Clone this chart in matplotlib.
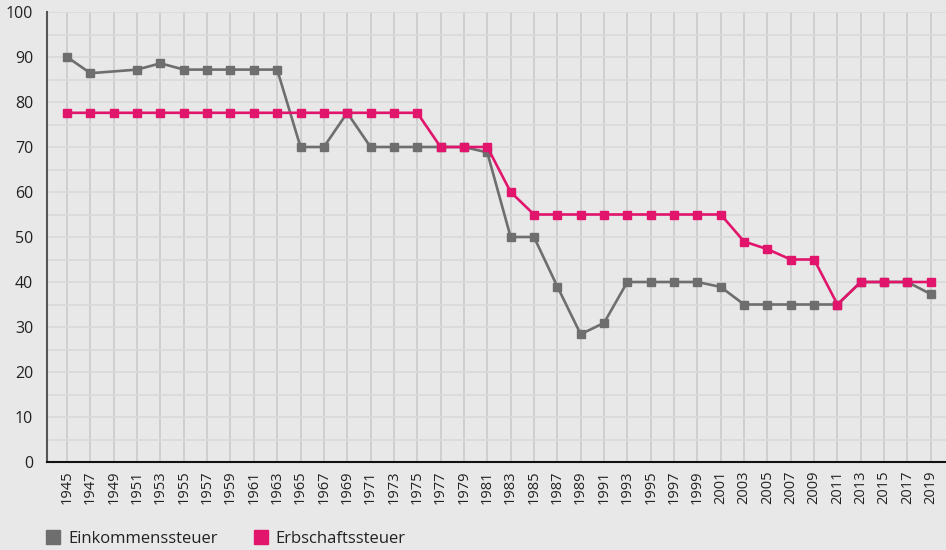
import numpy as np
import matplotlib
matplotlib.use("Agg")
import matplotlib.pyplot as plt
from matplotlib.lines import Line2D

years = list(range(1945, 2020, 2))

# top rate income tax (no value for 1949)
einkommen = [90, 86.4, None, 87.2, 88.6, 87.2, 87.2, 87.2, 87.2, 87.2,
             70, 70, 77.6, 70, 70, 70, 70, 70, 68.8,
             50, 50, 39, 28.4, 30.9, 40, 40, 40, 40, 38.9,
             35, 35, 35, 35, 35, 40, 40, 40, 37.3]

erbschaft = [77.6] * 16 + [70, 70, 70, 60] + [55] * 9 + [49, 47.3, 45, 45, 35, 40, 40, 40, 40]

gray = "#6e6e6e"
pink = "#e0156b"
bg = "#e8e8e8"

plt.rcParams["font.family"] = ["Open Sans", "DejaVu Sans"]

fig = plt.figure(figsize=(9.46, 5.5), dpi=100)
fig.patch.set_facecolor(bg)
ax = fig.add_axes([47 / 946, 88 / 550, 1 - 47 / 946, 450 / 550])
ax.set_facecolor(bg)

ek_x = [y for y, v in zip(years, einkommen) if v is not None]
ek_y = [v for v in einkommen if v is not None]

line_kw = dict(marker="s", markersize=6, linewidth=1.9, zorder=3)
ax.plot(ek_x, ek_y, color=gray, **line_kw)
ax.plot(years, erbschaft, color=pink, **line_kw)

ax.set_ylim(0, 100)
ax.set_xlim(1945 - 1.72, 2019 + 1.3)
ax.set_yticks(range(0, 101, 10))
ax.set_yticks(range(5, 100, 10), minor=True)
ax.set_xticks(years)
ax.set_xticklabels([str(y) for y in years], rotation=90, fontsize=10.5, color="#222222")
ax.tick_params(axis="y", labelsize=11.5, colors="#222222", length=0, pad=10, which="both")
ax.tick_params(axis="x", length=0, pad=6)

ax.grid(axis="y", which="both", color="#d9d9d9", linewidth=1.2, zorder=0)
ax.grid(axis="x", color="#cbcbcb", linewidth=1.2, zorder=0)
ax.set_axisbelow(True)

for s in ["top", "right"]:
    ax.spines[s].set_visible(False)
ax.spines["left"].set_color("#555555")
ax.spines["left"].set_linewidth(1.5)
ax.spines["bottom"].set_color("#111111")
ax.spines["bottom"].set_linewidth(1.5)

handles = [Line2D([], [], linestyle="none", marker="s", markersize=9.5, color=gray),
           Line2D([], [], linestyle="none", marker="s", markersize=9.5, color=pink)]
fig.legend(handles, ["Einkommenssteuer", "Erbschaftssteuer"], loc="lower left",
           bbox_to_anchor=(28 / 946, -12 / 550), ncol=2, frameon=False, fontsize=12,
           handletextpad=0.3, columnspacing=2.0, handlelength=1.2,
           labelcolor="#222222")

fig.savefig("out.png", dpi=100, facecolor=bg)
